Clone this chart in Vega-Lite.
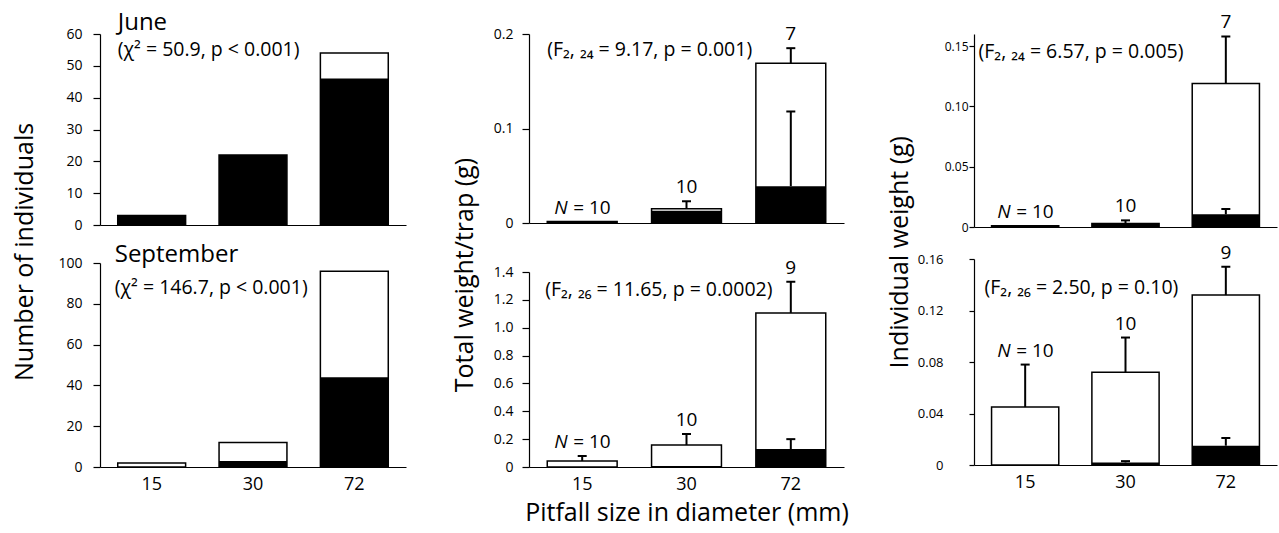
{
  "$schema": "https://vega.github.io/schema/vega-lite/v6.json",
  "background": "white",
  "padding": {"left": 12, "top": 10, "right": 1, "bottom": 2},
  "config": {
    "font": "Open Sans",
    "view": {"stroke": null},
    "axis": {"domainColor": "#000", "tickColor": "#000", "labelColor": "#000", "titleColor": "#000", "grid": false, "titleFontWeight": "normal", "domainWidth": 1.2, "tickWidth": 1.2, "labelFont": "Open Sans", "titleFont": "Open Sans", "labelOverlap": false, "labelBound": false},
    "title": {"fontWeight": "normal", "color": "#000", "font": "Open Sans"},
    "text": {"color": "#000", "font": "Open Sans"}
  },
  "datasets": {
    "d": [
      {"panel": "cnt_jun", "size": "15", "total": 3, "black": 3},
      {"panel": "cnt_jun", "size": "30", "total": 22, "black": 22},
      {"panel": "cnt_jun", "size": "72", "total": 54, "black": 46},
      {"panel": "cnt_sep", "size": "15", "total": 2, "black": 0},
      {"panel": "cnt_sep", "size": "30", "total": 12, "black": 3},
      {"panel": "cnt_sep", "size": "72", "total": 96, "black": 44},
      {"panel": "tw_jun", "size": "15", "total": 0.0015, "black": 0.001, "total_hi": null, "black_hi": null, "n": "10"},
      {"panel": "tw_jun", "size": "30", "total": 0.015, "black": 0.013, "total_hi": 0.023, "black_hi": null, "n": "10"},
      {"panel": "tw_jun", "size": "72", "total": 0.169, "black": 0.039, "total_hi": 0.185, "black_hi": 0.118, "n": "7"},
      {"panel": "tw_sep", "size": "15", "total": 0.043, "black": 0, "total_hi": 0.079, "black_hi": null, "n": "10"},
      {"panel": "tw_sep", "size": "30", "total": 0.158, "black": 0.008, "total_hi": 0.237, "black_hi": null, "n": "10"},
      {"panel": "tw_sep", "size": "72", "total": 1.106, "black": 0.129, "total_hi": 1.33, "black_hi": 0.2, "n": "9"},
      {"panel": "iw_jun", "size": "15", "total": 0.001, "black": 0.001, "total_hi": null, "black_hi": null, "n": "10"},
      {"panel": "iw_jun", "size": "30", "total": 0.003, "black": 0.003, "total_hi": 0.0055, "black_hi": null, "n": "10"},
      {"panel": "iw_jun", "size": "72", "total": 0.119, "black": 0.0105, "total_hi": 0.158, "black_hi": 0.015, "n": "7"},
      {"panel": "iw_sep", "size": "15", "total": 0.045, "black": 0, "total_hi": 0.078, "black_hi": null, "n": "10"},
      {"panel": "iw_sep", "size": "30", "total": 0.072, "black": 0.002, "total_hi": 0.099, "black_hi": 0.003, "n": "10"},
      {"panel": "iw_sep", "size": "72", "total": 0.132, "black": 0.015, "total_hi": 0.154, "black_hi": 0.021, "n": "9"}
    ]
  },
  "spacing": 47,
  "hconcat": [
    {
      "bounds": "flush",
      "spacing": 38,
      "title": {"text": "Number of individuals", "orient": "left", "anchor": "middle", "fontSize": 25, "offset": 20},
      "vconcat": [
        {
          "width": 306, "height": 191,
          "data": {"name": "d"},
          "transform": [{"filter": "datum.panel == 'cnt_jun'"}],
          "encoding": {"x": {"field": "size", "type": "nominal", "sort": ["15", "30", "72"], "scale": {"paddingInner": 0.33, "paddingOuter": 0.175}, "axis": {"labels": false, "ticks": false, "title": null}}},
          "layer": [
            {"mark": {"type": "bar", "fill": "white", "stroke": "#000", "strokeWidth": 1.5}, "encoding": {"y": {"field": "total", "type": "quantitative", "scale": {"domain": [0, 60], "nice": false}, "axis": {"values": [0, 10, 20, 30, 40, 50, 60], "title": null, "labelFontSize": 14, "tickSize": 7, "labelPadding": 11}}}},
            {"mark": {"type": "bar", "fill": "#000"}, "encoding": {"y": {"field": "black", "type": "quantitative", "axis": {"values": [0, 10, 20, 30, 40, 50, 60], "title": null, "labelFontSize": 14, "tickSize": 7, "labelPadding": 11}}}},
            {"transform": [{"filter": "datum.size == '15'"}], "mark": {"type": "text", "align": "left", "baseline": "alphabetic", "fontSize": 24}, "encoding": {"x": {"datum": "15", "bandPosition": 0}, "y": {"datum": 61.3, "type": "quantitative", "axis": {"values": [0, 10, 20, 30, 40, 50, 60], "title": null, "labelFontSize": 14, "tickSize": 7, "labelPadding": 11}}, "text": {"value": "June"}}},
            {"transform": [{"filter": "datum.size == '15'"}], "mark": {"type": "text", "align": "left", "baseline": "middle", "fontSize": 19.5}, "encoding": {"x": {"datum": "15", "bandPosition": 0}, "y": {"datum": 55, "type": "quantitative", "axis": {"values": [0, 10, 20, 30, 40, 50, 60], "title": null, "labelFontSize": 14, "tickSize": 7, "labelPadding": 11}}, "text": {"value": "(χ² = 50.9, p < 0.001)"}}}
          ]
        },
        {
          "width": 306, "height": 204,
          "data": {"name": "d"},
          "transform": [{"filter": "datum.panel == 'cnt_sep'"}],
          "encoding": {"x": {"field": "size", "type": "nominal", "sort": ["15", "30", "72"], "scale": {"paddingInner": 0.33, "paddingOuter": 0.175}, "axis": {"ticks": false, "title": null, "labelFontSize": 18, "labelAngle": 0, "labelPadding": 8}}},
          "layer": [
            {"mark": {"type": "bar", "fill": "white", "stroke": "#000", "strokeWidth": 1.5}, "encoding": {"y": {"field": "total", "type": "quantitative", "scale": {"domain": [0, 100], "nice": false}, "axis": {"values": [0, 20, 40, 60, 80, 100], "title": null, "labelFontSize": 14, "tickSize": 7, "labelPadding": 11}}}},
            {"mark": {"type": "bar", "fill": "#000"}, "encoding": {"y": {"field": "black", "type": "quantitative", "axis": {"values": [0, 20, 40, 60, 80, 100], "title": null, "labelFontSize": 14, "tickSize": 7, "labelPadding": 11}}}},
            {"transform": [{"filter": "datum.size == '15'"}], "mark": {"type": "text", "align": "left", "baseline": "alphabetic", "fontSize": 24, "dx": -3}, "encoding": {"x": {"datum": "15", "bandPosition": 0}, "y": {"datum": 100.6, "type": "quantitative", "axis": {"values": [0, 20, 40, 60, 80, 100], "title": null, "labelFontSize": 14, "tickSize": 7, "labelPadding": 11}}, "text": {"value": "September"}}},
            {"transform": [{"filter": "datum.size == '15'"}], "mark": {"type": "text", "align": "left", "baseline": "middle", "fontSize": 19.5, "dx": -3}, "encoding": {"x": {"datum": "15", "bandPosition": 0}, "y": {"datum": 87.7, "type": "quantitative", "axis": {"values": [0, 20, 40, 60, 80, 100], "title": null, "labelFontSize": 14, "tickSize": 7, "labelPadding": 11}}, "text": {"value": "(χ² = 146.7, p < 0.001)"}}}
          ]
        }
      ]
    },
    {
      "spacing": 39,
      "hconcat": [
        {
          "bounds": "flush",
          "spacing": 49,
          "title": {"text": "Total weight/trap (g)", "orient": "left", "anchor": "middle", "fontSize": 25, "offset": 15},
          "vconcat": [
            {
              "width": 315, "height": 189,
              "data": {"name": "d"},
              "transform": [{"filter": "datum.panel == 'tw_jun'"}, {"calculate": "datum.total_hi != null ? datum.total_hi : datum.total", "as": "lab"}],
              "encoding": {"x": {"field": "size", "type": "nominal", "sort": ["15", "30", "72"], "scale": {"paddingInner": 0.33, "paddingOuter": 0.175}, "axis": {"labels": false, "ticks": false, "title": null}}},
              "layer": [
                {"mark": {"type": "bar", "fill": "white", "stroke": "#000", "strokeWidth": 1.5}, "encoding": {"y": {"field": "total", "type": "quantitative", "scale": {"domain": [0, 0.2], "nice": false}, "axis": {"values": [0, 0.1, 0.2], "labelExpr": "datum.value == 0 ? '0' : format(datum.value, '.1f')", "title": null, "labelFontSize": 14, "tickSize": 7, "labelPadding": 9}}}},
                {"mark": {"type": "bar", "fill": "#000"}, "encoding": {"y": {"field": "black", "type": "quantitative", "axis": {"values": [0, 0.1, 0.2], "labelExpr": "datum.value == 0 ? '0' : format(datum.value, '.1f')", "title": null, "labelFontSize": 14, "tickSize": 7, "labelPadding": 9}}}},
                {"mark": {"type": "rule", "strokeWidth": 2, "color": "#000"}, "encoding": {"y": {"field": "total", "type": "quantitative", "axis": {"values": [0, 0.1, 0.2], "labelExpr": "datum.value == 0 ? '0' : format(datum.value, '.1f')", "title": null, "labelFontSize": 14, "tickSize": 7, "labelPadding": 9}}, "y2": {"field": "total_hi"}}},
                {"mark": {"type": "tick", "orient": "horizontal", "size": 9, "thickness": 2, "color": "#000", "opacity": 1}, "encoding": {"y": {"field": "total_hi", "type": "quantitative", "axis": {"values": [0, 0.1, 0.2], "labelExpr": "datum.value == 0 ? '0' : format(datum.value, '.1f')", "title": null, "labelFontSize": 14, "tickSize": 7, "labelPadding": 9}}}},
                {"mark": {"type": "rule", "strokeWidth": 2, "color": "#000"}, "encoding": {"y": {"field": "black", "type": "quantitative", "axis": {"values": [0, 0.1, 0.2], "labelExpr": "datum.value == 0 ? '0' : format(datum.value, '.1f')", "title": null, "labelFontSize": 14, "tickSize": 7, "labelPadding": 9}}, "y2": {"field": "black_hi"}}},
                {"mark": {"type": "tick", "orient": "horizontal", "size": 9, "thickness": 2, "color": "#000", "opacity": 1}, "encoding": {"y": {"field": "black_hi", "type": "quantitative", "axis": {"values": [0, 0.1, 0.2], "labelExpr": "datum.value == 0 ? '0' : format(datum.value, '.1f')", "title": null, "labelFontSize": 14, "tickSize": 7, "labelPadding": 9}}}},
                {"transform": [{"filter": "datum.size != '15'"}], "mark": {"type": "text", "align": "center", "baseline": "bottom", "fontSize": 19, "dy": -4}, "encoding": {"y": {"field": "lab", "type": "quantitative", "axis": {"values": [0, 0.1, 0.2], "labelExpr": "datum.value == 0 ? '0' : format(datum.value, '.1f')", "title": null, "labelFontSize": 14, "tickSize": 7, "labelPadding": 9}}, "text": {"field": "n"}}},
                {"transform": [{"filter": "datum.size == '15'"}], "mark": {"type": "text", "align": "left", "baseline": "bottom", "fontSize": 19, "fontStyle": "italic", "dx": -28, "dy": -4}, "encoding": {"y": {"field": "lab", "type": "quantitative", "axis": {"values": [0, 0.1, 0.2], "labelExpr": "datum.value == 0 ? '0' : format(datum.value, '.1f')", "title": null, "labelFontSize": 14, "tickSize": 7, "labelPadding": 9}}, "text": {"value": "N"}}},
                {"transform": [{"filter": "datum.size == '15'"}], "mark": {"type": "text", "align": "left", "baseline": "bottom", "fontSize": 19, "dx": -9, "dy": -4}, "encoding": {"y": {"field": "lab", "type": "quantitative", "axis": {"values": [0, 0.1, 0.2], "labelExpr": "datum.value == 0 ? '0' : format(datum.value, '.1f')", "title": null, "labelFontSize": 14, "tickSize": 7, "labelPadding": 9}}, "text": {"value": "= 10"}}},
                {"transform": [{"filter": "datum.size == '15'"}], "mark": {"type": "text", "align": "left", "baseline": "middle", "fontSize": 19.5}, "encoding": {"x": {"datum": "15", "bandPosition": 0}, "y": {"datum": 0.183, "type": "quantitative", "axis": {"values": [0, 0.1, 0.2], "labelExpr": "datum.value == 0 ? '0' : format(datum.value, '.1f')", "title": null, "labelFontSize": 14, "tickSize": 7, "labelPadding": 9}}, "text": {"value": "(F₂, ₂₄ = 9.17, p = 0.001)"}}}
              ]
            },
            {
              "width": 315, "height": 195,
              "data": {"name": "d"},
              "transform": [{"filter": "datum.panel == 'tw_sep'"}, {"calculate": "datum.total_hi != null ? datum.total_hi : datum.total", "as": "lab"}],
              "encoding": {"x": {"field": "size", "type": "nominal", "sort": ["15", "30", "72"], "scale": {"paddingInner": 0.33, "paddingOuter": 0.175}, "axis": {"ticks": false, "title": "Pitfall size in diameter (mm)", "titleFontSize": 25, "titlePadding": 7, "labelFontSize": 18, "labelAngle": 0, "labelPadding": 8}}},
              "layer": [
                {"mark": {"type": "bar", "fill": "white", "stroke": "#000", "strokeWidth": 1.5}, "encoding": {"y": {"field": "total", "type": "quantitative", "scale": {"domain": [0, 1.4], "nice": false}, "axis": {"values": [0, 0.2, 0.4, 0.6, 0.8, 1.0, 1.2, 1.4], "labelExpr": "datum.value == 0 ? '0' : format(datum.value, '.1f')", "title": null, "labelFontSize": 14, "tickSize": 7, "labelPadding": 9}}}},
                {"mark": {"type": "bar", "fill": "#000"}, "encoding": {"y": {"field": "black", "type": "quantitative", "axis": {"values": [0, 0.2, 0.4, 0.6, 0.8, 1.0, 1.2, 1.4], "labelExpr": "datum.value == 0 ? '0' : format(datum.value, '.1f')", "title": null, "labelFontSize": 14, "tickSize": 7, "labelPadding": 9}}}},
                {"mark": {"type": "rule", "strokeWidth": 2, "color": "#000"}, "encoding": {"y": {"field": "total", "type": "quantitative", "axis": {"values": [0, 0.2, 0.4, 0.6, 0.8, 1.0, 1.2, 1.4], "labelExpr": "datum.value == 0 ? '0' : format(datum.value, '.1f')", "title": null, "labelFontSize": 14, "tickSize": 7, "labelPadding": 9}}, "y2": {"field": "total_hi"}}},
                {"mark": {"type": "tick", "orient": "horizontal", "size": 9, "thickness": 2, "color": "#000", "opacity": 1}, "encoding": {"y": {"field": "total_hi", "type": "quantitative", "axis": {"values": [0, 0.2, 0.4, 0.6, 0.8, 1.0, 1.2, 1.4], "labelExpr": "datum.value == 0 ? '0' : format(datum.value, '.1f')", "title": null, "labelFontSize": 14, "tickSize": 7, "labelPadding": 9}}}},
                {"mark": {"type": "rule", "strokeWidth": 2, "color": "#000"}, "encoding": {"y": {"field": "black", "type": "quantitative", "axis": {"values": [0, 0.2, 0.4, 0.6, 0.8, 1.0, 1.2, 1.4], "labelExpr": "datum.value == 0 ? '0' : format(datum.value, '.1f')", "title": null, "labelFontSize": 14, "tickSize": 7, "labelPadding": 9}}, "y2": {"field": "black_hi"}}},
                {"mark": {"type": "tick", "orient": "horizontal", "size": 9, "thickness": 2, "color": "#000", "opacity": 1}, "encoding": {"y": {"field": "black_hi", "type": "quantitative", "axis": {"values": [0, 0.2, 0.4, 0.6, 0.8, 1.0, 1.2, 1.4], "labelExpr": "datum.value == 0 ? '0' : format(datum.value, '.1f')", "title": null, "labelFontSize": 14, "tickSize": 7, "labelPadding": 9}}}},
                {"transform": [{"filter": "datum.size != '15'"}], "mark": {"type": "text", "align": "center", "baseline": "bottom", "fontSize": 19, "dy": -4}, "encoding": {"y": {"field": "lab", "type": "quantitative", "axis": {"values": [0, 0.2, 0.4, 0.6, 0.8, 1.0, 1.2, 1.4], "labelExpr": "datum.value == 0 ? '0' : format(datum.value, '.1f')", "title": null, "labelFontSize": 14, "tickSize": 7, "labelPadding": 9}}, "text": {"field": "n"}}},
                {"transform": [{"filter": "datum.size == '15'"}], "mark": {"type": "text", "align": "left", "baseline": "bottom", "fontSize": 19, "fontStyle": "italic", "dx": -28, "dy": -4}, "encoding": {"y": {"field": "lab", "type": "quantitative", "axis": {"values": [0, 0.2, 0.4, 0.6, 0.8, 1.0, 1.2, 1.4], "labelExpr": "datum.value == 0 ? '0' : format(datum.value, '.1f')", "title": null, "labelFontSize": 14, "tickSize": 7, "labelPadding": 9}}, "text": {"value": "N"}}},
                {"transform": [{"filter": "datum.size == '15'"}], "mark": {"type": "text", "align": "left", "baseline": "bottom", "fontSize": 19, "dx": -9, "dy": -4}, "encoding": {"y": {"field": "lab", "type": "quantitative", "axis": {"values": [0, 0.2, 0.4, 0.6, 0.8, 1.0, 1.2, 1.4], "labelExpr": "datum.value == 0 ? '0' : format(datum.value, '.1f')", "title": null, "labelFontSize": 14, "tickSize": 7, "labelPadding": 9}}, "text": {"value": "= 10"}}},
                {"transform": [{"filter": "datum.size == '15'"}], "mark": {"type": "text", "align": "left", "baseline": "middle", "fontSize": 19.5, "dx": -2}, "encoding": {"x": {"datum": "15", "bandPosition": 0}, "y": {"datum": 1.27, "type": "quantitative", "axis": {"values": [0, 0.2, 0.4, 0.6, 0.8, 1.0, 1.2, 1.4], "labelExpr": "datum.value == 0 ? '0' : format(datum.value, '.1f')", "title": null, "labelFontSize": 14, "tickSize": 7, "labelPadding": 9}}, "text": {"value": "(F₂, ₂₆ = 11.65, p = 0.0002)"}}}
              ]
            }
          ]
        },
        {
          "bounds": "flush",
          "spacing": 32,
          "title": {"text": "Individual weight (g)", "orient": "left", "anchor": "middle", "fontSize": 25, "offset": 4},
          "vconcat": [
            {
              "width": 303, "height": 193,
              "data": {"name": "d"},
              "transform": [{"filter": "datum.panel == 'iw_jun'"}, {"calculate": "datum.total_hi != null ? datum.total_hi : datum.total", "as": "lab"}],
              "encoding": {"x": {"field": "size", "type": "nominal", "sort": ["15", "30", "72"], "scale": {"paddingInner": 0.33, "paddingOuter": 0.175}, "axis": {"labels": false, "ticks": false, "title": null}}},
              "layer": [
                {"mark": {"type": "bar", "fill": "white", "stroke": "#000", "strokeWidth": 1.5}, "encoding": {"y": {"field": "total", "type": "quantitative", "scale": {"domain": [0, 0.16], "nice": false}, "axis": {"values": [0, 0.05, 0.1, 0.15], "labelExpr": "datum.value == 0 ? '0' : format(datum.value, '.2f')", "title": null, "labelFontSize": 12, "tickSize": 5, "labelPadding": 1}}}},
                {"mark": {"type": "bar", "fill": "#000"}, "encoding": {"y": {"field": "black", "type": "quantitative", "axis": {"values": [0, 0.05, 0.1, 0.15], "labelExpr": "datum.value == 0 ? '0' : format(datum.value, '.2f')", "title": null, "labelFontSize": 12, "tickSize": 5, "labelPadding": 1}}}},
                {"mark": {"type": "rule", "strokeWidth": 2, "color": "#000"}, "encoding": {"y": {"field": "total", "type": "quantitative", "axis": {"values": [0, 0.05, 0.1, 0.15], "labelExpr": "datum.value == 0 ? '0' : format(datum.value, '.2f')", "title": null, "labelFontSize": 12, "tickSize": 5, "labelPadding": 1}}, "y2": {"field": "total_hi"}}},
                {"mark": {"type": "tick", "orient": "horizontal", "size": 9, "thickness": 2, "color": "#000", "opacity": 1}, "encoding": {"y": {"field": "total_hi", "type": "quantitative", "axis": {"values": [0, 0.05, 0.1, 0.15], "labelExpr": "datum.value == 0 ? '0' : format(datum.value, '.2f')", "title": null, "labelFontSize": 12, "tickSize": 5, "labelPadding": 1}}}},
                {"mark": {"type": "rule", "strokeWidth": 2, "color": "#000"}, "encoding": {"y": {"field": "black", "type": "quantitative", "axis": {"values": [0, 0.05, 0.1, 0.15], "labelExpr": "datum.value == 0 ? '0' : format(datum.value, '.2f')", "title": null, "labelFontSize": 12, "tickSize": 5, "labelPadding": 1}}, "y2": {"field": "black_hi"}}},
                {"mark": {"type": "tick", "orient": "horizontal", "size": 9, "thickness": 2, "color": "#000", "opacity": 1}, "encoding": {"y": {"field": "black_hi", "type": "quantitative", "axis": {"values": [0, 0.05, 0.1, 0.15], "labelExpr": "datum.value == 0 ? '0' : format(datum.value, '.2f')", "title": null, "labelFontSize": 12, "tickSize": 5, "labelPadding": 1}}}},
                {"transform": [{"filter": "datum.size != '15'"}], "mark": {"type": "text", "align": "center", "baseline": "bottom", "fontSize": 19, "dy": -4}, "encoding": {"y": {"field": "lab", "type": "quantitative", "axis": {"values": [0, 0.05, 0.1, 0.15], "labelExpr": "datum.value == 0 ? '0' : format(datum.value, '.2f')", "title": null, "labelFontSize": 12, "tickSize": 5, "labelPadding": 1}}, "text": {"field": "n"}}},
                {"transform": [{"filter": "datum.size == '15'"}], "mark": {"type": "text", "align": "left", "baseline": "bottom", "fontSize": 19, "fontStyle": "italic", "dx": -28, "dy": -4}, "encoding": {"y": {"field": "lab", "type": "quantitative", "axis": {"values": [0, 0.05, 0.1, 0.15], "labelExpr": "datum.value == 0 ? '0' : format(datum.value, '.2f')", "title": null, "labelFontSize": 12, "tickSize": 5, "labelPadding": 1}}, "text": {"value": "N"}}},
                {"transform": [{"filter": "datum.size == '15'"}], "mark": {"type": "text", "align": "left", "baseline": "bottom", "fontSize": 19, "dx": -9, "dy": -4}, "encoding": {"y": {"field": "lab", "type": "quantitative", "axis": {"values": [0, 0.05, 0.1, 0.15], "labelExpr": "datum.value == 0 ? '0' : format(datum.value, '.2f')", "title": null, "labelFontSize": 12, "tickSize": 5, "labelPadding": 1}}, "text": {"value": "= 10"}}},
                {"transform": [{"filter": "datum.size == '15'"}], "mark": {"type": "text", "align": "left", "baseline": "middle", "fontSize": 19.5, "dx": -13}, "encoding": {"x": {"datum": "15", "bandPosition": 0}, "y": {"datum": 0.145, "type": "quantitative", "axis": {"values": [0, 0.05, 0.1, 0.15], "labelExpr": "datum.value == 0 ? '0' : format(datum.value, '.2f')", "title": null, "labelFontSize": 12, "tickSize": 5, "labelPadding": 1}}, "text": {"value": "(F₂, ₂₄ = 6.57, p = 0.005)"}}}
              ]
            },
            {
              "width": 303, "height": 206,
              "data": {"name": "d"},
              "transform": [{"filter": "datum.panel == 'iw_sep'"}, {"calculate": "datum.total_hi != null ? datum.total_hi : datum.total", "as": "lab"}],
              "encoding": {"x": {"field": "size", "type": "nominal", "sort": ["15", "30", "72"], "scale": {"paddingInner": 0.33, "paddingOuter": 0.175}, "axis": {"ticks": false, "title": null, "labelFontSize": 18, "labelAngle": 0, "labelPadding": 8}}},
              "layer": [
                {"mark": {"type": "bar", "fill": "white", "stroke": "#000", "strokeWidth": 1.5}, "encoding": {"y": {"field": "total", "type": "quantitative", "scale": {"domain": [0, 0.16], "nice": false}, "axis": {"values": [0, 0.04, 0.08, 0.12, 0.16], "labelExpr": "datum.value == 0 ? '0' : format(datum.value, '.2f')", "title": null, "labelFontSize": 13, "tickSize": 5, "labelPadding": 26}}}},
                {"mark": {"type": "bar", "fill": "#000"}, "encoding": {"y": {"field": "black", "type": "quantitative", "axis": {"values": [0, 0.04, 0.08, 0.12, 0.16], "labelExpr": "datum.value == 0 ? '0' : format(datum.value, '.2f')", "title": null, "labelFontSize": 13, "tickSize": 5, "labelPadding": 26}}}},
                {"mark": {"type": "rule", "strokeWidth": 2, "color": "#000"}, "encoding": {"y": {"field": "total", "type": "quantitative", "axis": {"values": [0, 0.04, 0.08, 0.12, 0.16], "labelExpr": "datum.value == 0 ? '0' : format(datum.value, '.2f')", "title": null, "labelFontSize": 13, "tickSize": 5, "labelPadding": 26}}, "y2": {"field": "total_hi"}}},
                {"mark": {"type": "tick", "orient": "horizontal", "size": 9, "thickness": 2, "color": "#000", "opacity": 1}, "encoding": {"y": {"field": "total_hi", "type": "quantitative", "axis": {"values": [0, 0.04, 0.08, 0.12, 0.16], "labelExpr": "datum.value == 0 ? '0' : format(datum.value, '.2f')", "title": null, "labelFontSize": 13, "tickSize": 5, "labelPadding": 26}}}},
                {"mark": {"type": "rule", "strokeWidth": 2, "color": "#000"}, "encoding": {"y": {"field": "black", "type": "quantitative", "axis": {"values": [0, 0.04, 0.08, 0.12, 0.16], "labelExpr": "datum.value == 0 ? '0' : format(datum.value, '.2f')", "title": null, "labelFontSize": 13, "tickSize": 5, "labelPadding": 26}}, "y2": {"field": "black_hi"}}},
                {"mark": {"type": "tick", "orient": "horizontal", "size": 9, "thickness": 2, "color": "#000", "opacity": 1}, "encoding": {"y": {"field": "black_hi", "type": "quantitative", "axis": {"values": [0, 0.04, 0.08, 0.12, 0.16], "labelExpr": "datum.value == 0 ? '0' : format(datum.value, '.2f')", "title": null, "labelFontSize": 13, "tickSize": 5, "labelPadding": 26}}}},
                {"transform": [{"filter": "datum.size != '15'"}], "mark": {"type": "text", "align": "center", "baseline": "bottom", "fontSize": 19, "dy": -4}, "encoding": {"y": {"field": "lab", "type": "quantitative", "axis": {"values": [0, 0.04, 0.08, 0.12, 0.16], "labelExpr": "datum.value == 0 ? '0' : format(datum.value, '.2f')", "title": null, "labelFontSize": 13, "tickSize": 5, "labelPadding": 26}}, "text": {"field": "n"}}},
                {"transform": [{"filter": "datum.size == '15'"}], "mark": {"type": "text", "align": "left", "baseline": "bottom", "fontSize": 19, "fontStyle": "italic", "dx": -28, "dy": -4}, "encoding": {"y": {"field": "lab", "type": "quantitative", "axis": {"values": [0, 0.04, 0.08, 0.12, 0.16], "labelExpr": "datum.value == 0 ? '0' : format(datum.value, '.2f')", "title": null, "labelFontSize": 13, "tickSize": 5, "labelPadding": 26}}, "text": {"value": "N"}}},
                {"transform": [{"filter": "datum.size == '15'"}], "mark": {"type": "text", "align": "left", "baseline": "bottom", "fontSize": 19, "dx": -9, "dy": -4}, "encoding": {"y": {"field": "lab", "type": "quantitative", "axis": {"values": [0, 0.04, 0.08, 0.12, 0.16], "labelExpr": "datum.value == 0 ? '0' : format(datum.value, '.2f')", "title": null, "labelFontSize": 13, "tickSize": 5, "labelPadding": 26}}, "text": {"value": "= 10"}}},
                {"transform": [{"filter": "datum.size == '15'"}], "mark": {"type": "text", "align": "left", "baseline": "middle", "fontSize": 19.5, "dx": -7}, "encoding": {"x": {"datum": "15", "bandPosition": 0}, "y": {"datum": 0.1375, "type": "quantitative", "axis": {"values": [0, 0.04, 0.08, 0.12, 0.16], "labelExpr": "datum.value == 0 ? '0' : format(datum.value, '.2f')", "title": null, "labelFontSize": 13, "tickSize": 5, "labelPadding": 26}}, "text": {"value": "(F₂, ₂₆ = 2.50, p = 0.10)"}}}
              ]
            }
          ]
        }
      ]
    }
  ]
}
